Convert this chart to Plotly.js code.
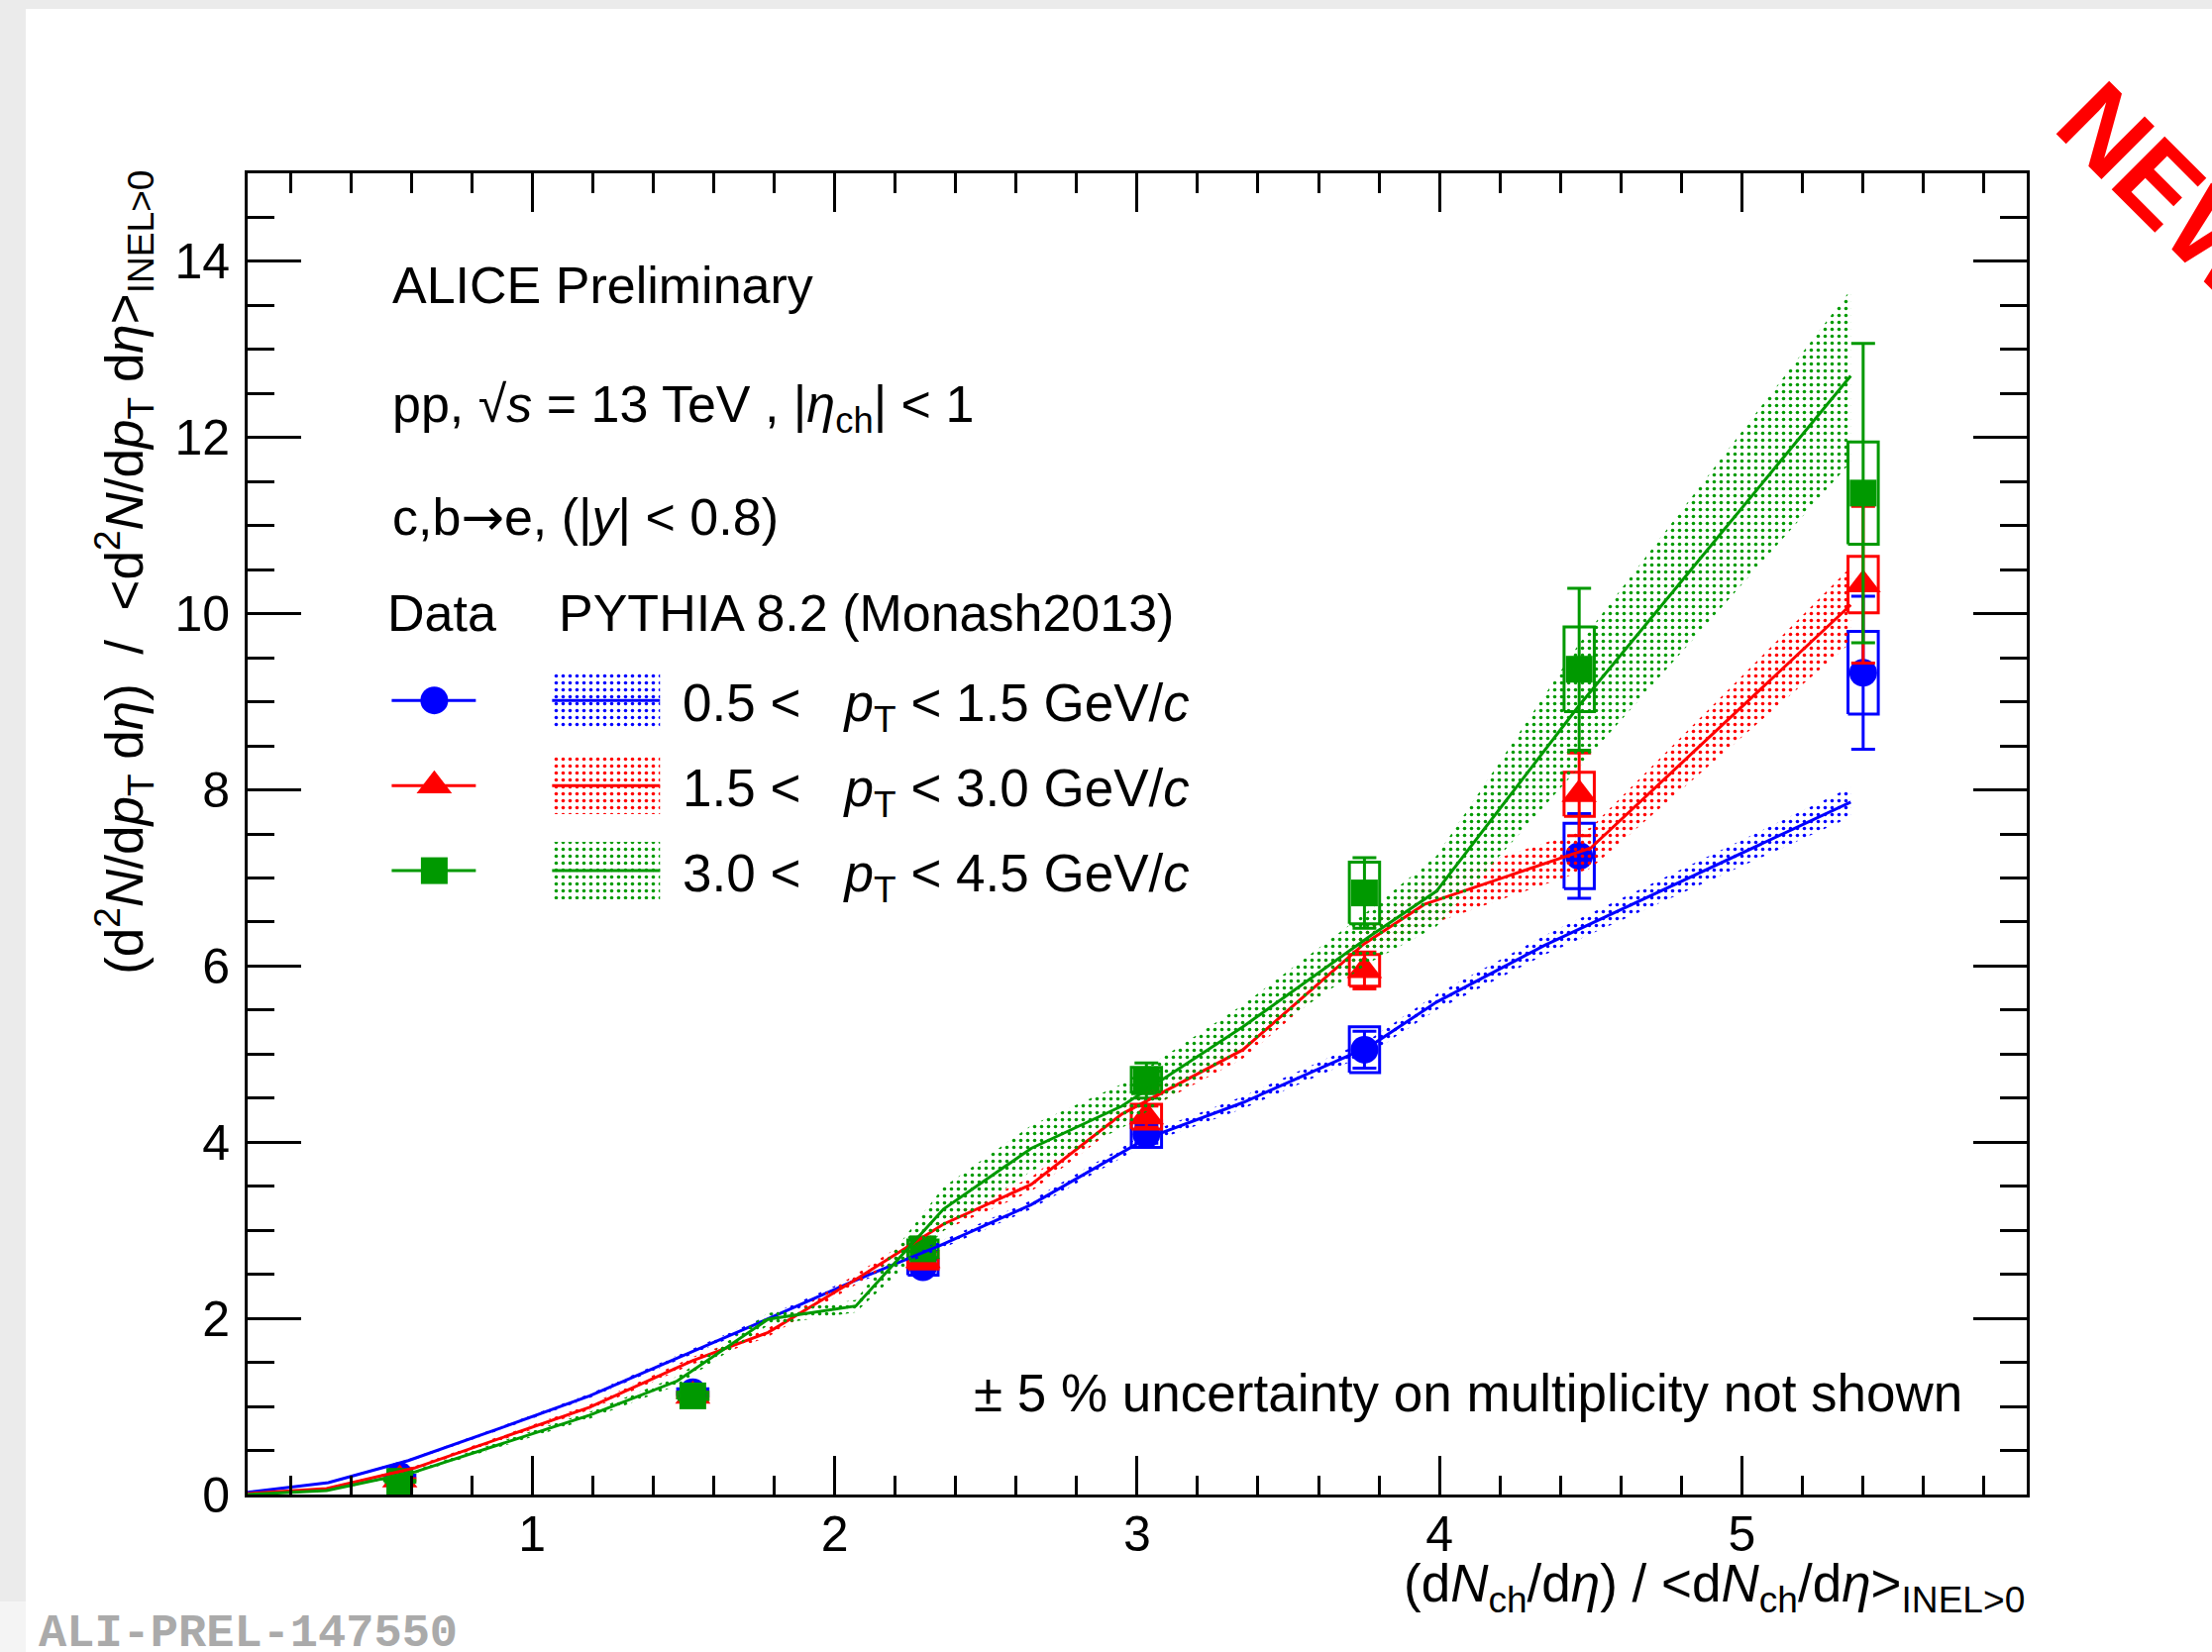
<!DOCTYPE html>
<html><head><meta charset="utf-8">
<script src="https://cdn.plot.ly/plotly-3.0.1.min.js"></script>
<style>
html,body{margin:0;padding:0;width:2233px;height:1668px;overflow:hidden;background:#ebebeb;}
#strip{position:absolute;left:0;top:1617px;width:26px;height:51px;background:#f4f4f4;}
#chart{position:absolute;left:26px;top:9px;width:2207px;height:1659px;background:#fff;}
</style></head><body>
<div id="strip"></div>
<div id="chart"></div>
<script>
// ---------------- data ----------------
const xData = [0.562, 1.531, 2.292, 3.031, 3.752, 4.462, 5.401];

// 0.5 < pT < 1.5 GeV/c
const yLow    = [0.21, 1.16, 2.58, 4.09, 5.05, 7.25, 9.33];
const statLow = [0.02, 0.03, 0.05, 0.10, 0.21, 0.48, 0.87];
const sysLow  = [0.01, 0.04, 0.09, 0.15, 0.26, 0.37, 0.47];
// 1.5 < pT < 3.0 GeV/c
const yMid    = [0.17, 1.12, 2.66, 4.29, 5.95, 7.95, 10.33];
const statMid = [0.02, 0.04, 0.06, 0.12, 0.21, 0.47, 0.89];
const sysMid  = [0.01, 0.04, 0.10, 0.14, 0.18, 0.25, 0.32];
// 3.0 < pT < 4.5 GeV/c
const yHigh    = [0.15, 1.12, 2.79, 4.70, 6.83, 9.37, 11.37];
const statHigh = [0.02, 0.04, 0.08, 0.20, 0.40, 0.92, 1.70];
const sysHigh  = [0.01, 0.04, 0.10, 0.15, 0.35, 0.48, 0.58];

// PYTHIA 8.2 (Monash2013) curves and band half-widths
const pyXLow   = [0.059, 0.326, 0.59, 0.90, 1.19, 1.48, 1.77, 2.06, 2.35, 2.65, 3.03, 3.35, 3.77, 3.99, 4.35, 5.36];
const pyYLow   = [0.026, 0.135, 0.385, 0.76, 1.12, 1.55, 1.98, 2.42, 2.83, 3.29, 4.04, 4.45, 5.09, 5.59, 6.24, 7.86];
const pyErrLow = [0.005, 0.01, 0.015, 0.02, 0.025, 0.03, 0.035, 0.04, 0.045, 0.05, 0.06, 0.07, 0.08, 0.09, 0.11, 0.17];

const pyXMid   = [0.059, 0.32, 0.61, 1.19, 1.53, 1.78, 2.06, 2.36, 2.65, 2.95, 3.35, 3.75, 3.95, 4.50, 5.36];
const pyYMid   = [0.01, 0.067, 0.30, 0.99, 1.52, 1.84, 2.42, 3.07, 3.52, 4.32, 5.05, 6.25, 6.70, 7.34, 10.10];
const pyErrMid = [0.005, 0.01, 0.02, 0.03, 0.04, 0.05, 0.06, 0.07, 0.08, 0.10, 0.10, 0.15, 0.25, 0.23, 0.43];

const pyXHigh   = [0.059, 0.32, 0.61, 1.19, 1.48, 1.78, 2.07, 2.36, 2.65, 2.95, 3.35, 3.77, 3.99, 4.46, 5.36];
const pyYHigh   = [0.0, 0.045, 0.255, 0.90, 1.29, 1.99, 2.14, 3.24, 3.93, 4.41, 5.31, 6.34, 6.85, 8.95, 12.70];
const pyErrHigh = [0.005, 0.01, 0.02, 0.04, 0.05, 0.07, 0.07, 0.25, 0.26, 0.25, 0.25, 0.30, 0.40, 0.70, 0.98];

const seriesLabels = [
  '0.5 &lt;   <i>p</i><sub>T</sub> &lt; 1.5 GeV/<i>c</i>',
  '1.5 &lt;   <i>p</i><sub>T</sub> &lt; 3.0 GeV/<i>c</i>',
  '3.0 &lt;   <i>p</i><sub>T</sub> &lt; 4.5 GeV/<i>c</i>'
];
const xTickVals = [1, 2, 3, 4, 5];
const yTickVals = [0, 2, 4, 6, 8, 10, 12, 14];

// ---------------- styles / geometry ----------------
const FONT = 'Liberation Sans, Arial, Helvetica, sans-serif';
const BOX_HALF = 0.05;
// page pixel -> paper fraction (plot area 249.5..2046.5 x 174.5..1509.3 on the page)
const PX = X => (X - 249.5) / 1797;
const PY = Y => (1509.3 - Y) / 1334.8;

const series = [
  {y: yLow,  stat: statLow,  sys: sysLow,  px: pyXLow,  py: pyYLow,  pe: pyErrLow,  color: '#0000ff', symbol: 'circle',      size: 28},
  {y: yMid,  stat: statMid,  sys: sysMid,  px: pyXMid,  py: pyYMid,  pe: pyErrMid,  color: '#ff0000', symbol: 'triangle-up', size: 31},
  {y: yHigh, stat: statHigh, sys: sysHigh, px: pyXHigh, py: pyYHigh, pe: pyErrHigh, color: '#009900', symbol: 'square',      size: 27}
];

function pattern(color) {
  return {shape: '.', fgcolor: color, bgcolor: 'rgba(0,0,0,0)', fgopacity: 1, size: 7, solidity: 0.2};
}

const traces = [];
// data: systematic boxes + points with statistical bars
series.forEach(s => {
  const bx = [], by = [];
  xData.forEach((x, i) => {
    const lo = s.y[i] - s.sys[i], hi = s.y[i] + s.sys[i];
    bx.push(x - BOX_HALF, x + BOX_HALF, x + BOX_HALF, x - BOX_HALF, x - BOX_HALF, null);
    by.push(lo, lo, hi, hi, lo, null);
  });
  traces.push({x: bx, y: by, mode: 'lines', line: {color: s.color, width: 3}, hoverinfo: 'skip', showlegend: false, connectgaps: false});
  traces.push({x: xData, y: s.y, mode: 'markers',
    marker: {symbol: s.symbol, size: s.size, color: s.color, line: {width: 0}},
    error_y: {type: 'data', array: s.stat, visible: true, color: s.color, thickness: 3, width: 12},
    showlegend: false});
});
// PYTHIA bands and central lines
series.forEach(s => {
  const up = s.py.map((v, i) => v + s.pe[i]);
  const lo = s.py.map((v, i) => v - s.pe[i]);
  traces.push({x: s.px.concat(s.px.slice().reverse()), y: up.concat(lo.slice().reverse()),
    mode: 'lines', line: {width: 0, color: s.color}, fill: 'toself', fillcolor: 'rgba(0,0,0,0)',
    fillpattern: pattern(s.color), hoverinfo: 'skip', showlegend: false});
  traces.push({x: s.px, y: s.py, mode: 'lines', line: {color: s.color, width: 3}, showlegend: false});
});

// legend glyphs on an overlay axis spanning the plot area
const rowY = [707, 793, 879];
series.forEach((s, i) => {
  const yc = PY(rowY[i]);
  const yt = PY(rowY[i] - 29), yb = PY(rowY[i] + 29);
  traces.push({x: [PX(395), PX(480)], y: [yc, yc], xaxis: 'x2', yaxis: 'y2', mode: 'lines',
    line: {color: s.color, width: 3}, showlegend: false});
  traces.push({x: [PX(438)], y: [yc], xaxis: 'x2', yaxis: 'y2', mode: 'markers',
    marker: {symbol: s.symbol, size: s.size, color: s.color}, showlegend: false});
  traces.push({x: [PX(557), PX(666), PX(666), PX(557), PX(557)], y: [yb, yb, yt, yt, yb],
    xaxis: 'x2', yaxis: 'y2', mode: 'lines', line: {width: 0, color: s.color}, fill: 'toself',
    fillcolor: 'rgba(0,0,0,0)', fillpattern: pattern(s.color), showlegend: false});
  traces.push({x: [PX(557), PX(666)], y: [yc, yc], xaxis: 'x2', yaxis: 'y2', mode: 'lines',
    line: {color: s.color, width: 3}, showlegend: false});
});

function ann(text, X, Y, opts) {
  return Object.assign({text: text, x: PX(X), y: PY(Y), xref: 'paper', yref: 'paper', showarrow: false,
    xanchor: 'left', yanchor: 'middle', font: {family: FONT, size: 52, color: '#000'}}, opts || {});
}
const ARROW = '<span style="font-family:DejaVu Sans">→</span>';

const annotations = [
  ann('ALICE Preliminary', 394, 288),
  ann('pp, √<i>s</i> = 13 TeV , |<i>η</i><sub>ch</sub>| &lt; 1', 394, 412),
  ann('c,b' + ARROW + 'e, (|<i>y</i>| &lt; 0.8)', 394, 522),
  ann('Data', 389, 619),
  ann('PYTHIA 8.2 (Monash2013)', 562, 619),
  ann(seriesLabels[0], 687, 713, {font: {family: FONT, size: 53, color: '#000'}}),
  ann(seriesLabels[1], 687, 799, {font: {family: FONT, size: 53, color: '#000'}}),
  ann(seriesLabels[2], 687, 885, {font: {family: FONT, size: 53, color: '#000'}}),
  ann('± 5 % uncertainty on multiplicity not shown', 1983, 1407, {xanchor: 'right', font: {family: FONT, size: 53, color: '#000'}}),
  ann('(d<i>N</i><sub>ch</sub>/d<i>η</i>) / &lt;d<i>N</i><sub>ch</sub>/d<i>η</i>&gt;<sub>INEL&gt;0</sub>', 2046, 1603, {xanchor: 'right', font: {family: FONT, size: 53, color: '#000'}}),
  ann('(d<sup>2</sup><i>N</i>/d<i>p</i><sub>T</sub> d<i>η</i>)  /  &lt;d<sup>2</sup><i>N</i>/d<i>p</i><sub>T</sub> d<i>η</i>&gt;<sub>INEL&gt;0</sub>', 124, 578, {xanchor: 'center', textangle: -90, font: {family: FONT, size: 53, color: '#000'}}),
  ann('ALI-PREL-147550', 36, 1650, {font: {family: 'Liberation Mono, Courier New, monospace', size: 47, color: '#aaaaaa', weight: 'bold'}}),
  ann('NEW', 2189, 193, {xanchor: 'center', textangle: 45, font: {family: FONT, size: 110, color: '#ff0000', weight: 'bold'}})
];

const axisCommon = {
  showgrid: false, zeroline: false, showline: true, linecolor: '#000', linewidth: 3,
  mirror: 'allticks', ticks: 'inside', tickcolor: '#000', tickwidth: 3,
  tickfont: {family: FONT, size: 50, color: '#000'}, automargin: false
};

const layout = {
  width: 2207, height: 1659,
  margin: {l: 223.5, r: 186.5, t: 165.5, b: 158.7, pad: 0},
  paper_bgcolor: '#ffffff', plot_bgcolor: '#ffffff',
  showlegend: false,
  xaxis: Object.assign({}, axisCommon, {range: [0.059, 5.942], tickmode: 'array', tickvals: xTickVals,
    ticktext: xTickVals.map(String), ticklen: 39, ticklabelstandoff: -6,
    minor: {dtick: 0.2, tick0: 0, ticks: 'inside', ticklen: 19.5, tickwidth: 3, tickcolor: '#000', showgrid: false}}),
  yaxis: Object.assign({}, axisCommon, {range: [0, 15], tickmode: 'array', tickvals: yTickVals,
    ticktext: yTickVals.map(String), ticklen: 54, ticklabelstandoff: 5,
    minor: {dtick: 0.5, tick0: 0, ticks: 'inside', ticklen: 27, tickwidth: 3, tickcolor: '#000', showgrid: false}}),
  xaxis2: {overlaying: 'x', anchor: 'y2', range: [0, 1], visible: false, showgrid: false, zeroline: false},
  yaxis2: {overlaying: 'y', anchor: 'x2', range: [0, 1], visible: false, showgrid: false, zeroline: false},
  annotations: annotations
};

Plotly.newPlot('chart', traces, layout, {displayModeBar: false, staticPlot: true});
</script></body></html>
